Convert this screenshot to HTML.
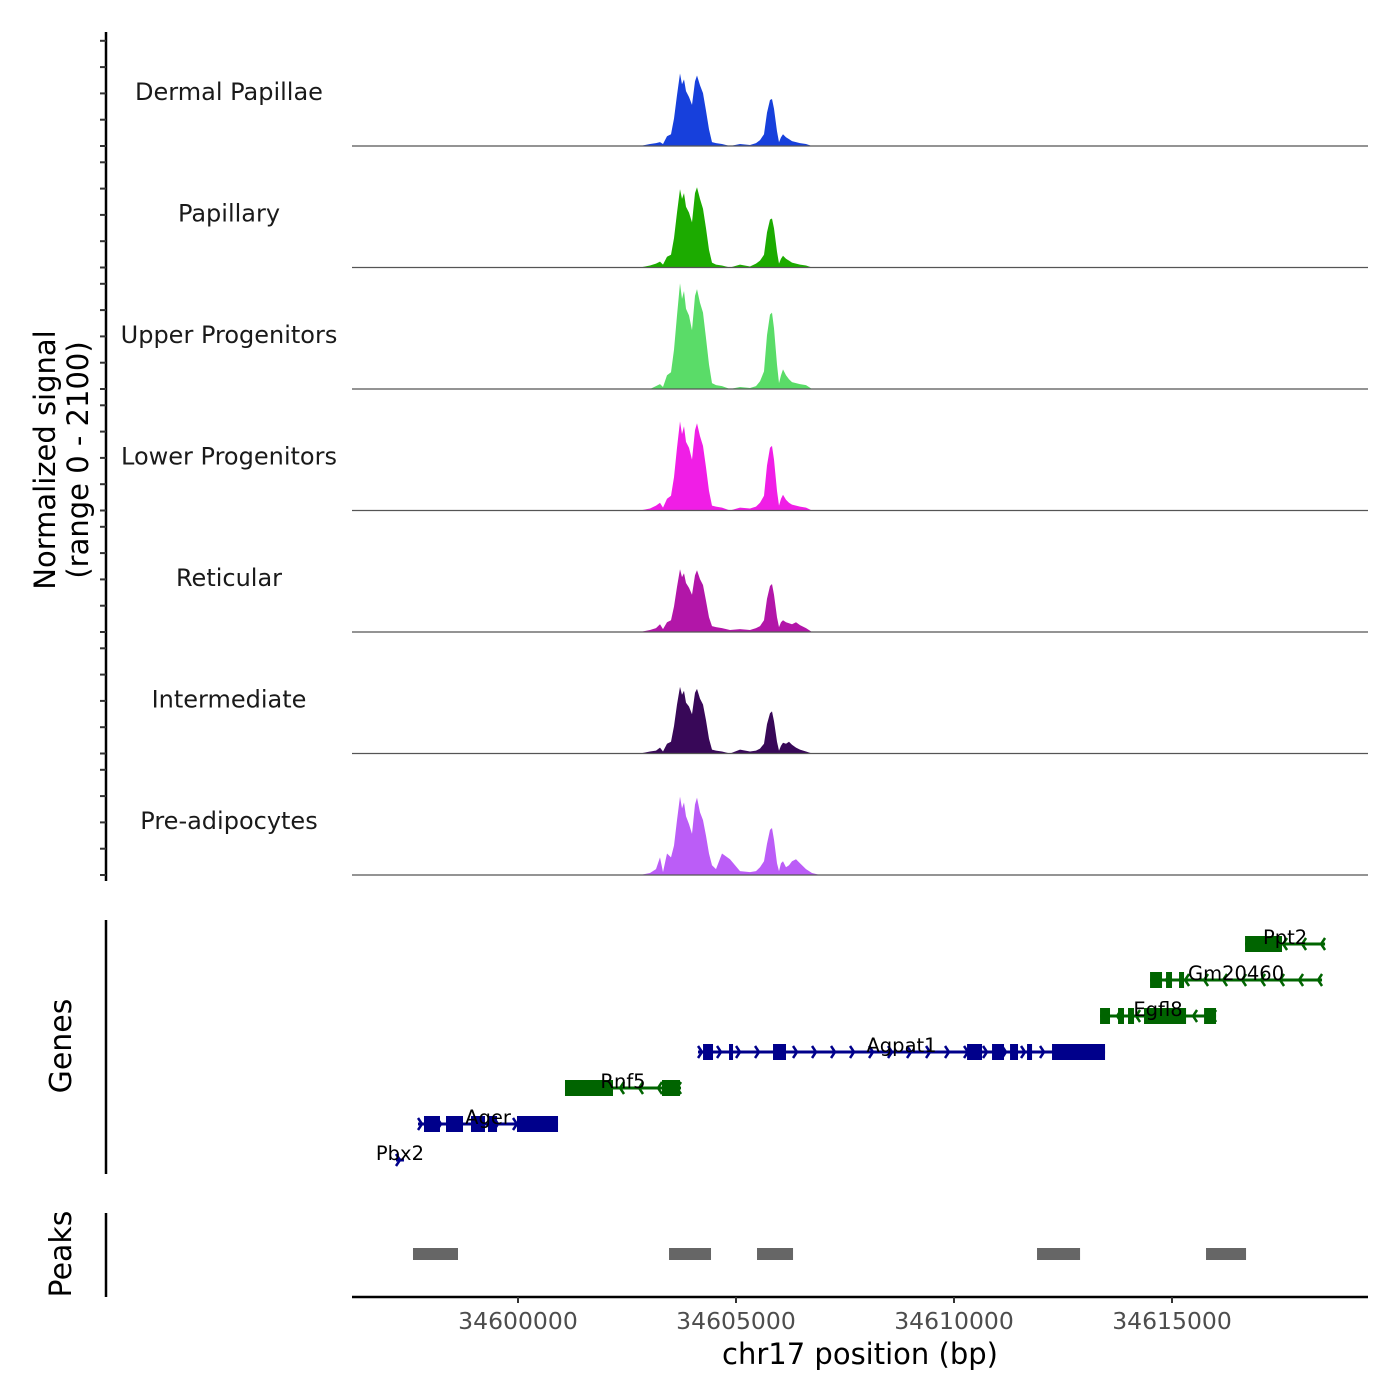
<!DOCTYPE html>
<html><head><meta charset="utf-8"><style>
html,body{margin:0;padding:0;background:#fff;}
svg{display:block;font-family:"DejaVu Sans","Liberation Sans",sans-serif;}
</style></head><body>
<svg id="chart" width="1400" height="1400" viewBox="0 0 1400 1400" xmlns="http://www.w3.org/2000/svg">
<g id="axes"></g>
<g id="tracks"></g>
<g id="genes"></g>
<g id="peaks"></g>
<text x="0" y="0" transform="translate(55,460) rotate(-90)" text-anchor="middle" font-size="29" fill="#000">Normalized signal</text>
<text x="0" y="0" transform="translate(88,460) rotate(-90)" text-anchor="middle" font-size="29" fill="#000">(range 0 - 2100)</text>
<text x="0" y="0" transform="translate(71,1046) rotate(-90)" text-anchor="middle" font-size="30" fill="#000">Genes</text>
<text x="0" y="0" transform="translate(71,1254) rotate(-90)" text-anchor="middle" font-size="30" fill="#000">Peaks</text>
<text x="860" y="1364" text-anchor="middle" font-size="29" fill="#000">chr17 position (bp)</text>
</svg>
<script>
const xDomain = [34596193, 34619495];
const xTicks = [34600000, 34605000, 34610000, 34615000];
const yMax = 2100;
const trackNames = ["Dermal Papillae","Papillary","Upper Progenitors","Lower Progenitors","Reticular","Intermediate","Pre-adipocytes"];
const trackColors = ["#1740dc","#1cab00","#5adc68","#f01ee6","#b216a8","#380858","#bb5df7"];
const positions = [34602799,34603028,34603166,34603257,34603326,34603418,34603510,34603578,34603647,34603716,34603762,34603808,34603854,34603922,34603991,34604060,34604106,34604175,34604244,34604312,34604381,34604450,34604542,34604679,34604863,34605092,34605322,34605459,34605551,34605643,34605711,34605780,34605826,34605872,34605941,34605987,34606033,34606078,34606147,34606216,34606285,34606377,34606468,34606606,34606744,34606927];
const dermalPapillae = [0,34,51,68,34,170,204,476,884,1258,1071,1156,952,850,714,1122,1224,1054,918,612,289,68,51,34,0,34,17,51,102,204,578,799,816,646,255,68,153,204,153,119,85,68,51,34,0,0];
const papillary = [0,34,68,102,51,187,221,510,952,1360,1190,1292,1054,952,782,1292,1394,1190,1020,680,306,85,51,34,0,51,17,68,119,221,612,833,850,680,272,68,153,204,153,119,85,68,51,34,0,0];
const upperProgenitors = [0,0,51,85,34,238,289,680,1275,1836,1564,1700,1394,1275,1020,1615,1734,1496,1326,884,425,102,68,51,0,34,17,51,136,306,935,1292,1326,1054,425,102,238,340,238,170,119,102,85,68,0,0];
const lowerProgenitors = [0,34,85,136,51,204,255,578,1088,1547,1326,1462,1190,1088,884,1394,1513,1292,1122,748,340,85,68,51,0,51,34,68,136,255,782,1088,1122,884,340,85,204,272,187,136,102,85,68,51,0,0];
const reticular = [0,34,68,136,51,170,204,442,782,1088,952,1020,850,765,646,986,1071,918,816,544,255,102,85,68,34,51,34,68,102,204,578,799,833,646,255,85,170,204,170,153,136,170,119,68,0,0];
const intermediate = [0,34,51,102,34,170,204,476,850,1156,1020,1088,884,816,680,1054,1122,952,850,578,255,68,51,34,0,68,34,51,85,170,510,697,731,561,204,51,136,187,170,204,153,102,68,34,0,0];
const preAdipocytes = [0,34,102,306,51,374,306,510,952,1360,1156,1258,1020,884,714,1224,1343,1088,952,680,374,170,102,374,272,68,51,68,136,238,544,782,816,612,204,68,204,238,136,170,238,272,204,102,34,0];
const trackValues = [dermalPapillae,papillary,upperProgenitors,lowerProgenitors,reticular,intermediate,preAdipocytes];

const geneNames = ["Pbx2","Ager","Rnf5","Agpat1","Egfl8","Gm20460","Ppt2"];
const geneStarts = [34597202,34597707,34601078,34604129,34613349,34614496,34616675];
const geneEnds = [34597385,34600918,34603739,34613464,34616010,34618441,34618510];
const geneStrands = ["+","+","-","+","-","-","-"];
const geneRows = [6,5,4,3,2,1,0];
const geneExons = [
 [],
 [[34597844,34598211],[34598349,34598739],[34598922,34599243],[34599312,34599519],[34599977,34600918]],
 [[34601078,34602179],[34603303,34603716]],
 [[34604244,34604473],[34604840,34604932],[34605849,34606147],[34610299,34610643],[34610872,34611147],[34611285,34611468],[34611675,34611790],[34612248,34613464]],
 [[34613349,34613578],[34613762,34613899],[34613991,34614129],[34614358,34615322],[34615735,34616010]],
 [[34614496,34614771],[34614863,34615000],[34615161,34615276]],
 [[34616675,34617523]]
];
const peakStarts = [34597592,34603464,34605482,34611904,34615780];
const peakEnds = [34598624,34604427,34606308,34612891,34616698];

const NS = "http://www.w3.org/2000/svg";
const X0 = 352, X1 = 1368;
function xs(v){ return X0 + (v - xDomain[0]) / (xDomain[1] - xDomain[0]) * (X1 - X0); }
const baseline0 = 146, trackStep = 121.5, trackH = 121;
function ys(v, i){ return baseline0 + i*trackStep - v / yMax * trackH; }
function mk(tag, attrs, parent){ const e = document.createElementNS(NS, tag); for (const k in attrs) e.setAttribute(k, attrs[k]); parent.appendChild(e); return e; }

const axes = document.getElementById('axes');
let l = mk('line', {x1:106,y1:32,x2:106,y2:881,stroke:'#000','stroke-width':2.5}, axes);


for (let i = 0; i < 7; i++){
  for (let k = 0; k < 5; k++){
    const y = baseline0 + i*trackStep - k*26.3;
    const t = mk('line', {x1:100,y1:y,x2:106,y2:y,stroke:'#333','stroke-width':2}, axes);
    
    
  }
}
l = mk('line', {x1:106,y1:920,x2:106,y2:1174,stroke:'#000','stroke-width':2.5}, axes);


l = mk('line', {x1:106,y1:1213,x2:106,y2:1297,stroke:'#000','stroke-width':2.5}, axes);


l = mk('line', {x1:X0,y1:1297,x2:X1,y2:1297,stroke:'#000','stroke-width':2.5}, axes);


xTicks.forEach(v => {
  const x = xs(v);
  const t = mk('line', {x1:x,y1:1297,x2:x,y2:1303,stroke:'#333','stroke-width':2}, axes);
  
  
  const tx = mk('text', {x:x,y:1329,'text-anchor':'middle','font-size':23.5,fill:'#4d4d4d'}, axes);
  tx.textContent = v;
  
  
});

const tracks = document.getElementById('tracks');
trackValues.forEach((vals, i) => {
  const base = baseline0 + i*trackStep;
  let d = 'M' + X0 + ',' + base + ' L' + xs(positions[0]) + ',' + base;
  positions.forEach((p, j) => { d += ' L' + xs(p).toFixed(1) + ',' + ys(vals[j], i).toFixed(1); });
  d += ' L' + xs(positions[positions.length-1]) + ',' + base + ' Z';
  const a = mk('path', {d:d, fill:trackColors[i]}, tracks);
  
  
  const b = mk('line', {x1:X0,y1:base,x2:X1,y2:base,stroke:'#555','stroke-width':1.2}, tracks);
  
  
  const t = mk('text', {x:229,y:base-46,'text-anchor':'middle','font-size':24,fill:'#1a1a1a'}, tracks);
  t.textContent = trackNames[i];
  
  
});

const genes = document.getElementById('genes');
geneNames.forEach((name, i) => {
  const col = geneStrands[i] === '+' ? '#00008b' : '#006400';
  const y = 944 + geneRows[i]*36;
  const g = mk('g', {}, genes);
  
  
  const x1 = xs(geneStarts[i]), x2 = xs(geneEnds[i]);
  mk('line', {x1:x1,y1:y,x2:x2,y2:y,stroke:col,'stroke-width':3}, g);
  const dir = geneStrands[i] === '+' ? 1 : -1;
  for (let x = x1 + 4; x <= x2 - 2; x += 19){
    const cx = dir > 0 ? x : x2 - (x - x1);
    mk('polyline', {points:(cx-4*dir)+','+(y-6)+' '+cx+','+y+' '+(cx-4*dir)+','+(y+6),fill:'none',stroke:col,'stroke-width':2.5}, g);
  }
  geneExons[i].forEach(ex => {
    const a = xs(ex[0]), b = xs(ex[1]);
    mk('rect', {x:a,y:y-8,width:Math.max(b-a,2.5),height:16,fill:col}, g);
  });
  const t = mk('text', {x:(x1+x2)/2,y:y,'text-anchor':'middle','font-size':19.5,fill:'#000'}, g);
  t.textContent = name;
});

const peaks = document.getElementById('peaks');
peakStarts.forEach((s, i) => {
  const r = mk('rect', {x:xs(s),y:1248,width:xs(peakEnds[i])-xs(s),height:12,fill:'#666'}, peaks);
  
  
});
</script>
</body></html>
